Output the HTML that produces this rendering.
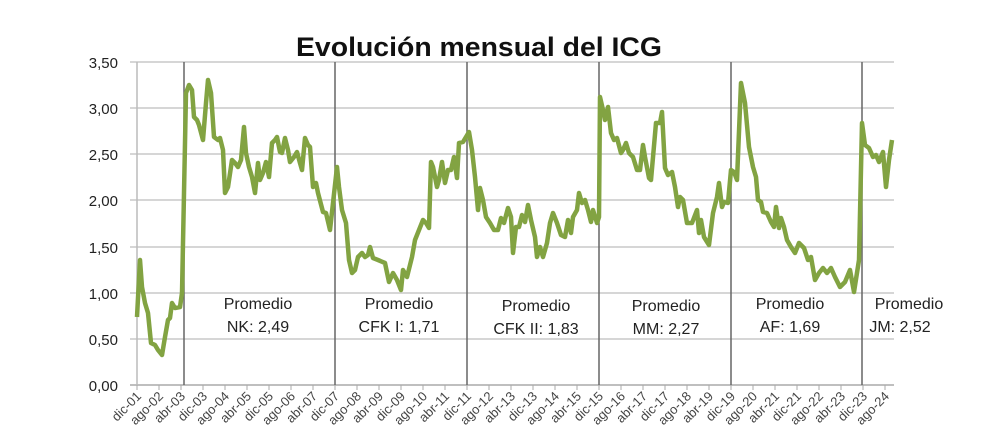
<!DOCTYPE html>
<html><head><meta charset="utf-8"><style>
body{margin:0;background:#fff;}
svg{display:block;font-family:"Liberation Sans",sans-serif;}
</style></head><body>
<svg width="992" height="441" viewBox="0 0 992 441" xmlns="http://www.w3.org/2000/svg">
<rect width="992" height="441" fill="#fff"/>
<text x="479" y="56" text-anchor="middle" font-size="27" font-weight="bold" fill="#111" textLength="366" lengthAdjust="spacingAndGlyphs">Evolución mensual del ICG</text>
<g stroke="#c9c9c9" stroke-width="1.5">
<line x1="130" y1="62" x2="894" y2="62"/><line x1="130" y1="108" x2="894" y2="108"/>
<line x1="130" y1="154" x2="894" y2="154"/><line x1="130" y1="200" x2="894" y2="200"/>
<line x1="130" y1="247" x2="894" y2="247"/><line x1="130" y1="293" x2="894" y2="293"/>
<line x1="130" y1="339" x2="894" y2="339"/>
</g>
<line x1="130" y1="385" x2="894" y2="385" stroke="#aaa" stroke-width="1.5"/>
<line x1="137" y1="62" x2="137" y2="385" stroke="#bbb" stroke-width="1.5"/>
<g stroke="#666" stroke-width="1.5">
<line x1="184" y1="62" x2="184" y2="385"/><line x1="335" y1="62" x2="335" y2="385"/>
<line x1="467" y1="62" x2="467" y2="385"/><line x1="599" y1="62" x2="599" y2="385"/>
<line x1="731" y1="62" x2="731" y2="385"/><line x1="862" y1="62" x2="862" y2="385"/>
</g>
<g font-size="15" fill="#222" text-anchor="end">
<text x="118" y="68">3,50</text><text x="118" y="114">3,00</text><text x="118" y="160">2,50</text>
<text x="118" y="206">2,00</text><text x="118" y="253">1,50</text><text x="118" y="299">1,00</text>
<text x="118" y="345">0,50</text><text x="118" y="391">0,00</text>
</g>
<g stroke="#aaa" stroke-width="1">
<line x1="137" y1="385" x2="137" y2="390"/><line x1="159" y1="385" x2="159" y2="390"/><line x1="181" y1="385" x2="181" y2="390"/><line x1="203" y1="385" x2="203" y2="390"/><line x1="225" y1="385" x2="225" y2="390"/><line x1="247" y1="385" x2="247" y2="390"/><line x1="269" y1="385" x2="269" y2="390"/><line x1="291" y1="385" x2="291" y2="390"/><line x1="313" y1="385" x2="313" y2="390"/><line x1="335" y1="385" x2="335" y2="390"/><line x1="357" y1="385" x2="357" y2="390"/><line x1="379" y1="385" x2="379" y2="390"/><line x1="401" y1="385" x2="401" y2="390"/><line x1="423" y1="385" x2="423" y2="390"/><line x1="445" y1="385" x2="445" y2="390"/><line x1="467" y1="385" x2="467" y2="390"/><line x1="489" y1="385" x2="489" y2="390"/><line x1="511" y1="385" x2="511" y2="390"/><line x1="533" y1="385" x2="533" y2="390"/><line x1="555" y1="385" x2="555" y2="390"/><line x1="577" y1="385" x2="577" y2="390"/><line x1="599" y1="385" x2="599" y2="390"/><line x1="621" y1="385" x2="621" y2="390"/><line x1="643" y1="385" x2="643" y2="390"/><line x1="665" y1="385" x2="665" y2="390"/><line x1="687" y1="385" x2="687" y2="390"/><line x1="709" y1="385" x2="709" y2="390"/><line x1="731" y1="385" x2="731" y2="390"/><line x1="753" y1="385" x2="753" y2="390"/><line x1="775" y1="385" x2="775" y2="390"/><line x1="797" y1="385" x2="797" y2="390"/><line x1="819" y1="385" x2="819" y2="390"/><line x1="841" y1="385" x2="841" y2="390"/><line x1="863" y1="385" x2="863" y2="390"/><line x1="885" y1="385" x2="885" y2="390"/>
</g>
<g font-size="13" fill="#444" text-anchor="end">
<text transform="translate(142,397) rotate(-45)">dic-01</text>
<text transform="translate(164,397) rotate(-45)">ago-02</text>
<text transform="translate(186,397) rotate(-45)">abr-03</text>
<text transform="translate(208,397) rotate(-45)">dic-03</text>
<text transform="translate(230,397) rotate(-45)">ago-04</text>
<text transform="translate(252,397) rotate(-45)">abr-05</text>
<text transform="translate(274,397) rotate(-45)">dic-05</text>
<text transform="translate(296,397) rotate(-45)">ago-06</text>
<text transform="translate(318,397) rotate(-45)">abr-07</text>
<text transform="translate(340,397) rotate(-45)">dic-07</text>
<text transform="translate(362,397) rotate(-45)">ago-08</text>
<text transform="translate(384,397) rotate(-45)">abr-09</text>
<text transform="translate(406,397) rotate(-45)">dic-09</text>
<text transform="translate(428,397) rotate(-45)">ago-10</text>
<text transform="translate(450,397) rotate(-45)">abr-11</text>
<text transform="translate(472,397) rotate(-45)">dic-11</text>
<text transform="translate(494,397) rotate(-45)">ago-12</text>
<text transform="translate(516,397) rotate(-45)">abr-13</text>
<text transform="translate(538,397) rotate(-45)">dic-13</text>
<text transform="translate(560,397) rotate(-45)">ago-14</text>
<text transform="translate(582,397) rotate(-45)">abr-15</text>
<text transform="translate(604,397) rotate(-45)">dic-15</text>
<text transform="translate(626,397) rotate(-45)">ago-16</text>
<text transform="translate(648,397) rotate(-45)">abr-17</text>
<text transform="translate(670,397) rotate(-45)">dic-17</text>
<text transform="translate(692,397) rotate(-45)">ago-18</text>
<text transform="translate(714,397) rotate(-45)">abr-19</text>
<text transform="translate(736,397) rotate(-45)">dic-19</text>
<text transform="translate(758,397) rotate(-45)">ago-20</text>
<text transform="translate(780,397) rotate(-45)">abr-21</text>
<text transform="translate(802,397) rotate(-45)">dic-21</text>
<text transform="translate(824,397) rotate(-45)">ago-22</text>
<text transform="translate(846,397) rotate(-45)">abr-23</text>
<text transform="translate(868,397) rotate(-45)">dic-23</text>
<text transform="translate(890,397) rotate(-45)">ago-24</text>
</g>
<g font-size="16" fill="#222" text-anchor="middle">
<text x="258" y="309">Promedio</text><text x="258" y="332">NK: 2,49</text>
<text x="399" y="309">Promedio</text><text x="399" y="332">CFK I: 1,71</text>
<text x="536" y="311">Promedio</text><text x="536" y="334">CFK II: 1,83</text>
<text x="666" y="311">Promedio</text><text x="666" y="334">MM: 2,27</text>
<text x="790" y="309">Promedio</text><text x="790" y="332">AF: 1,69</text>
<text x="909" y="309">Promedio</text><text x="900" y="332">JM: 2,52</text>
</g>
<polyline fill="none" stroke="#82a342" stroke-width="4.5" stroke-linejoin="round" points="137,317 140,260 142,287 145,303 148,313 151,343 155,345 158,350 162,355 165,337 168,320 170,318 172,303 175,308 180,307 182,293 184,193 186,93 189,85 192,90 194,117 197,120 199,125 203,140 206,103 208,80 211,93 214,137 218,140 220,138 223,150 225,193 228,187 232,160 235,163 238,167 241,160 244,127 246,153 249,167 252,177 255,193 258,163 260,180 263,173 266,162 269,177 272,143 275,140 277,137 280,152 282,153 285,138 288,150 290,162 294,157 297,152 300,163 302,170 305,138 308,145 310,147 313,187 316,183 318,193 323,212 326,213 330,230 333,203 337,167 339,187 342,210 346,223 349,260 352,273 355,270 358,257 362,253 365,257 368,255 370,247 373,258 378,260 385,263 389,282 393,273 397,280 401,290 403,270 407,277 412,257 415,240 419,230 423,220 426,223 429,228 431,162 433,167 437,187 439,180 442,162 445,183 448,170 451,170 454,157 457,178 459,143 463,142 466,137 469,132 472,150 475,177 478,210 480,188 483,200 486,217 490,223 494,230 498,230 501,218 504,223 508,208 511,217 513,253 516,227 519,227 522,215 525,222 528,205 531,220 535,237 537,257 540,247 543,257 547,243 550,223 553,213 557,223 561,235 565,237 568,220 571,233 573,217 577,210 579,193 582,203 585,200 588,210 591,222 593,210 597,223 599,217 600,97 603,110 605,120 608,107 611,133 614,140 617,138 621,153 623,150 626,143 629,153 633,157 637,170 640,170 643,145 645,157 649,178 651,180 656,123 660,123 662,112 665,168 668,175 672,172 675,187 678,207 680,197 683,200 687,223 692,223 697,210 699,233 701,220 704,237 709,245 713,213 717,197 719,183 722,207 724,202 728,203 731,170 734,172 737,180 741,83 745,103 749,147 753,167 756,177 758,200 761,202 763,212 767,213 771,222 774,227 776,207 779,228 781,218 784,227 787,240 791,247 795,253 799,243 804,248 808,260 811,257 815,280 819,273 823,268 827,273 831,268 835,277 840,287 845,282 850,270 854,292 859,260 862,123 865,145 869,148 873,157 876,155 879,162 883,152 886,187 889,160 892,140"/>
</svg>
</body></html>
